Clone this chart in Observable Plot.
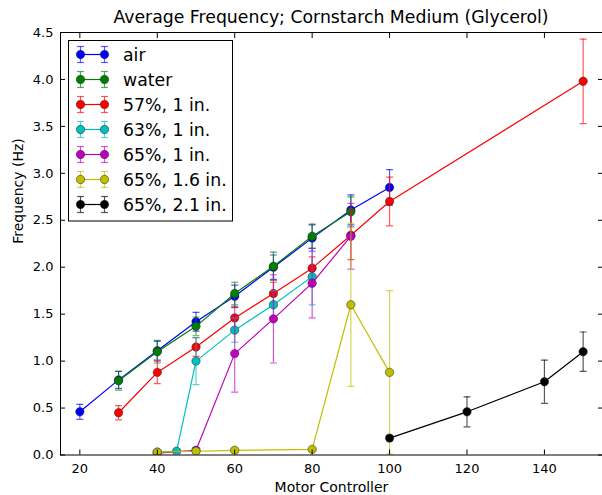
<!DOCTYPE html>
<html><head><meta charset="utf-8">
<script src="https://cdn.jsdelivr.net/npm/d3@7"></script>
<script src="https://cdn.jsdelivr.net/npm/@observablehq/plot@0.6"></script>
<style>
body{margin:0;background:#fff;font-family:"DejaVu Sans",sans-serif;}
#wrap{position:relative;width:602px;height:495px;}
#title{position:absolute;left:60px;width:542px;top:7px;text-align:center;font-size:17.3px;color:#000;}
</style></head>
<body><div id="wrap"><div id="title">Average Frequency; Cornstarch Medium (Glycerol)</div></div>
<script>
const seriesNames = ["air","water","57%, 1 in.","63%, 1 in.","65%, 1 in.","65%, 1.6 in.","65%, 2.1 in."];
const seriesColors = ["#0000ff","#008000","#ff0000","#00bfbf","#bf00bf","#bfbf00","#000000"];

const airX = [20,30,40,50,60,70,80,90,100];
const airY = [0.46,0.80,1.11,1.42,1.69,2.00,2.31,2.61,2.85];
const airErr = [0.08,0.09,0.10,0.10,0.12,0.13,0.14,0.16,0.19];

const waterX = [30,40,50,60,70,80,90];
const waterY = [0.79,1.10,1.37,1.72,2.01,2.33,2.59];
const waterErr = [0.10,0.12,0.10,0.12,0.15,0.13,0.16];

const g57X = [30,40,50,60,70,80,90,100,150];
const g57Y = [0.45,0.88,1.15,1.46,1.72,1.99,2.34,2.70,3.98];
const g57Err = [0.075,0.12,0.10,0.12,0.12,0.12,0.26,0.26,0.45];

const g63X = [40,45,50,60,70,80];
const g63Y = [0.03,0.04,1.00,1.33,1.60,1.90];
const g63Err = [0.02,0.02,0.25,0.13,0.15,0.30];

const g65X = [40,50,60,70,80,90];
const g65Y = [0.02,0.05,1.08,1.45,1.83,2.33];
const g65Err = [0.02,0.03,0.41,0.47,0.37,0.35];

const g65bX = [40,50,60,80,90,100];
const g65bY = [0.03,0.04,0.05,0.06,1.60,0.88];
const g65bErr = [0.02,0.02,0.02,0.02,0.87,0.87];

const g65cX = [100,120,140,150];
const g65cY = [0.18,0.46,0.78,1.10];
const g65cErr = [0.03,0.16,0.23,0.21];

const xTicks = [20,40,60,80,100,120,140];
const yTicks = [0,0.5,1,1.5,2,2.5,3,3.5,4,4.5];

const seriesX = [airX,waterX,g57X,g63X,g65X,g65bX,g65cX];
const seriesY = [airY,waterY,g57Y,g63Y,g65Y,g65bY,g65cY];
const seriesE = [airErr,waterErr,g57Err,g63Err,g65Err,g65bErr,g65cErr];

const capSymbol = {draw(ctx, size){ ctx.moveTo(-3.5,0); ctx.lineTo(3.5,0); }};

const marks = [];
seriesNames.forEach((name, i) => {
  const data = seriesX[i].map((x, j) => ({x, y: seriesY[i][j], lo: seriesY[i][j] - seriesE[i][j], hi: seriesY[i][j] + seriesE[i][j]}));
  const c = seriesColors[i];
  marks.push(Plot.ruleX(data, {x: "x", y1: "lo", y2: "hi", stroke: c, strokeOpacity: 0.65, strokeWidth: 1.2, clip: true}));
  marks.push(Plot.dot(data, {x: "x", y: "lo", symbol: capSymbol, stroke: c, strokeOpacity: 0.65, fill: "none", strokeWidth: 1.2, clip: true}));
  marks.push(Plot.dot(data, {x: "x", y: "hi", symbol: capSymbol, stroke: c, strokeOpacity: 0.65, fill: "none", strokeWidth: 1.2, clip: true}));
  marks.push(Plot.line(data, {x: "x", y: "y", stroke: c, strokeWidth: 1.2, clip: true}));
  marks.push(Plot.dot(data, {x: "x", y: "y", r: 4.2, fill: c, stroke: "#222", strokeWidth: 0.5, clip: true}));
});

const chart = Plot.plot({
  width: 602, height: 495,
  marginLeft: 60, marginRight: 0, marginTop: 32, marginBottom: 40.5,
  style: {fontFamily: "DejaVu Sans", fontSize: "13px", color: "#000", background: "transparent"},
  x: {domain: [15,155], ticks: xTicks},
  y: {domain: [0,4.5], ticks: yTicks},
  marks: [
    ...marks,
    Plot.frame({stroke: "#000", strokeWidth: 1}),
    Plot.axisX({ticks: xTicks, tickSize: -5, tickPadding: 14, label: null, fontSize: 13}),
    Plot.axisX({ticks: xTicks, anchor: "top", tickSize: -5, text: null, label: null}),
    Plot.axisY({ticks: yTicks, tickSize: -5, tickPadding: 12, tickFormat: d3.format(".1f"), label: null, fontSize: 13}),
    Plot.axisY({ticks: yTicks, anchor: "right", tickSize: -5, text: null, label: null}),
    Plot.text(["Motor Controller"], {frameAnchor: "bottom", dy: 37, fontSize: 14}),
    Plot.text(["Frequency (Hz)"], {frameAnchor: "left", dx: -42, rotate: -90, fontSize: 14})
  ]
});
document.getElementById("wrap").appendChild(chart);

// legend
const svg = d3.select(chart);
const lg = svg.append("g").attr("font-family", "DejaVu Sans").attr("font-size", 17.3).attr("text-anchor", "start");
lg.append("rect").attr("x", 68.5).attr("y", 40.5).attr("width", 164).attr("height", 180.5)
  .attr("fill", "#fff").attr("stroke", "#000").attr("stroke-width", 1);
seriesNames.forEach((name, i) => {
  const y = 54.5 + i * 25;
  const c = seriesColors[i];
  const row = lg.append("g");
  row.append("line").attr("x1", 80.5).attr("x2", 104.5).attr("y1", y).attr("y2", y).attr("stroke", c).attr("stroke-width", 1.2);
  [80.5, 104.5].forEach(x => {
    row.append("line").attr("x1", x).attr("x2", x).attr("y1", y - 8).attr("y2", y + 8).attr("stroke", c).attr("stroke-opacity", 0.65).attr("stroke-width", 1.2);
    row.append("line").attr("x1", x - 3.5).attr("x2", x + 3.5).attr("y1", y - 8).attr("y2", y - 8).attr("stroke", c).attr("stroke-opacity", 0.65).attr("stroke-width", 1.2);
    row.append("line").attr("x1", x - 3.5).attr("x2", x + 3.5).attr("y1", y + 8).attr("y2", y + 8).attr("stroke", c).attr("stroke-opacity", 0.65).attr("stroke-width", 1.2);
    row.append("circle").attr("cx", x).attr("cy", y).attr("r", 4.2).attr("fill", c).attr("stroke", "#222").attr("stroke-width", 0.5);
  });
  row.append("text").attr("x", 123).attr("y", y).attr("dy", "0.35em").attr("text-anchor", "start").attr("fill", "#000").text(name);
});
</script>
</body></html>
